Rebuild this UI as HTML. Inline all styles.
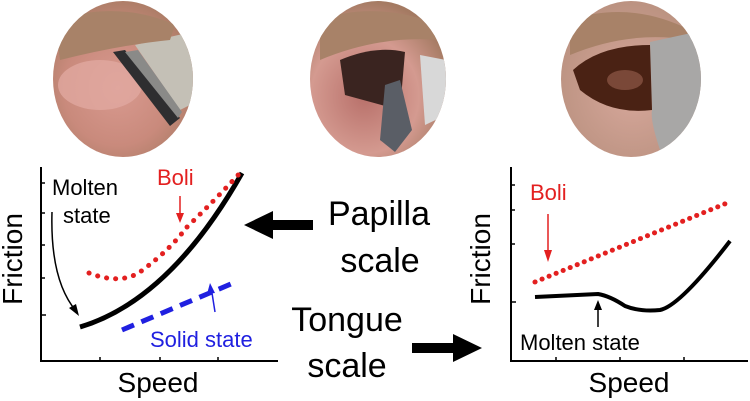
<!DOCTYPE html>
<html><head><style>
html,body{margin:0;padding:0;background:#fff;}
svg{display:block;font-family:"Liberation Sans",Arial,sans-serif;}
</style></head><body>
<svg width="750" height="401" viewBox="0 0 750 401" xmlns="http://www.w3.org/2000/svg">
<defs>
<radialGradient id="sk1" cx="45%" cy="55%" r="60%"><stop offset="0" stop-color="#d99a90"/><stop offset="0.6" stop-color="#c98a7c"/><stop offset="1" stop-color="#a67a62"/></radialGradient>
<radialGradient id="sk2" cx="40%" cy="60%" r="60%"><stop offset="0" stop-color="#b8706a"/><stop offset="0.6" stop-color="#d49a90"/><stop offset="1" stop-color="#a47a62"/></radialGradient>
<radialGradient id="sk3" cx="50%" cy="55%" r="60%"><stop offset="0" stop-color="#d8a89c"/><stop offset="1" stop-color="#b8907e"/></radialGradient>
<clipPath id="c1"><ellipse cx="123" cy="79" rx="70" ry="78"/></clipPath>
<clipPath id="c2"><ellipse cx="378" cy="79" rx="68" ry="78"/></clipPath>
<clipPath id="c3"><ellipse cx="631" cy="79" rx="70" ry="78"/></clipPath>
</defs>
<!-- photos -->
<g clip-path="url(#c1)">
<rect x="50" y="0" width="150" height="160" fill="url(#sk1)"/>
<path d="M135 45 L200 30 L200 100 L180 110 Z" fill="#c4c0b6"/>
<path d="M55 20 Q120 0 175 25 L170 40 Q120 45 60 60 Z" fill="#a88268"/>
<ellipse cx="100" cy="85" rx="42" ry="25" fill="#e2aaa2" opacity="0.75"/>
<polygon points="113,52 125,50 180,118 170,126" fill="#2e2e30"/>
<polygon points="125,52 138,50 182,112 178,118" fill="#8a8a88"/>
</g>
<g clip-path="url(#c2)">
<rect x="305" y="0" width="150" height="160" fill="url(#sk2)"/>
<path d="M320 20 Q375 0 440 25 L440 40 Q380 35 320 60 Z" fill="#a88268"/>
<path d="M340 60 Q375 45 405 52 L400 110 L345 95 Z" fill="#3a2420"/>
<polygon points="385,85 400,80 412,130 395,152 380,140" fill="#5a5e66"/>
<path d="M420 55 L446 60 L446 115 L425 125 Z" fill="#d8d8d8"/>
</g>
<g clip-path="url(#c3)">
<rect x="560" y="0" width="145" height="160" fill="url(#sk3)"/>
<path d="M570 20 Q630 0 690 30 L690 40 Q630 30 570 55 Z" fill="#a88268"/>
<path d="M650 42 L705 30 L705 160 L660 150 Q650 120 652 110 Z" fill="#a8a7a6"/>
<path d="M573 70 Q600 45 650 45 L652 110 Q610 115 580 90 Z" fill="#4a2214"/>
<ellipse cx="625" cy="80" rx="18" ry="10" fill="#7a4838"/>
</g>
<!-- left plot -->
<path d="M41 167 V361 H278" stroke="#000" stroke-width="2" fill="none"/>
<g stroke="#000" stroke-width="1.5">
<line x1="41" y1="183" x2="45" y2="183"/><line x1="41" y1="213" x2="45" y2="213"/><line x1="41" y1="245" x2="45" y2="245"/><line x1="41" y1="278" x2="45" y2="278"/><line x1="41" y1="315" x2="46" y2="315"/>
<line x1="100" y1="361" x2="100" y2="357"/><line x1="160" y1="361" x2="160" y2="357"/><line x1="218" y1="361" x2="218" y2="357"/>
</g>
<path d="M80 327 Q170 300 242 173" stroke="#000" stroke-width="5" fill="none"/>
<path d="M89 273 Q120 285 140 272 Q170 250 186 228 Q215 200 240 173" stroke="#e32020" stroke-width="5" fill="none" stroke-dasharray="0.1 9" stroke-linecap="round"/>
<path d="M122 330 L238 281" stroke="#2020e0" stroke-width="5" stroke-dasharray="13 8" fill="none"/>
<text x="52" y="195" font-size="22">Molten</text>
<text x="63" y="223" font-size="22">state</text>
<path d="M52 212 Q50 280 76 311" stroke="#000" stroke-width="1.5" fill="none"/>
<polygon points="79,316 69,308 76,304" fill="#000"/>
<text x="157" y="185" font-size="22" fill="#e32020">Boli</text>
<line x1="180" y1="196" x2="180" y2="215" stroke="#e32020" stroke-width="1.5"/>
<polygon points="176,213 184,213 180,223" fill="#e32020"/>
<text x="150" y="347" font-size="22" fill="#2020e0">Solid state</text>
<line x1="215" y1="312" x2="212" y2="293" stroke="#2020e0" stroke-width="1.5"/>
<polygon points="207,294 215,293 210,283" fill="#2020e0"/>
<text transform="translate(22,259) rotate(-90)" text-anchor="middle" font-size="28">Friction</text>
<text x="158" y="392" text-anchor="middle" font-size="28">Speed</text>
<!-- middle -->
<text x="379" y="225" text-anchor="middle" font-size="34">Papilla</text>
<text x="380" y="272" text-anchor="middle" font-size="34">scale</text>
<text x="347" y="331" text-anchor="middle" font-size="34">Tongue</text>
<text x="347" y="377" text-anchor="middle" font-size="34">scale</text>
<polygon points="244,225 273,211 273,220 313,220 313,230 273,230 273,239" fill="#000"/>
<polygon points="482,348 453,334 453,343 412,343 412,353 453,353 453,362" fill="#000"/>
<!-- right plot -->
<path d="M511 167 V361 H748" stroke="#000" stroke-width="2" fill="none"/>
<g stroke="#000" stroke-width="1.5">
<line x1="511" y1="185" x2="515" y2="185"/><line x1="511" y1="210" x2="515" y2="210"/><line x1="511" y1="244" x2="515" y2="244"/><line x1="511" y1="302" x2="516" y2="302"/>
<line x1="556" y1="361" x2="556" y2="357"/><line x1="620" y1="361" x2="620" y2="357"/><line x1="684" y1="361" x2="684" y2="357"/>
</g>
<path d="M535 282 L727 203" stroke="#e32020" stroke-width="5" fill="none" stroke-dasharray="0.1 7.5" stroke-linecap="round"/>
<path d="M535 297 L598 294 Q610 296 625 306 Q640 312 660 310 Q680 306 730 241" stroke="#000" stroke-width="4" fill="none"/>
<text x="530" y="200" font-size="22" fill="#e32020">Boli</text>
<line x1="548" y1="214" x2="548" y2="252" stroke="#e32020" stroke-width="1.5"/>
<polygon points="544,250 552,250 548,262" fill="#e32020"/>
<text x="520" y="350" font-size="22">Molten state</text>
<line x1="598" y1="327" x2="598" y2="308" stroke="#000" stroke-width="1.5"/>
<polygon points="594,310 602,310 598,300" fill="#000"/>
<text transform="translate(490,259) rotate(-90)" text-anchor="middle" font-size="28">Friction</text>
<text x="629" y="392" text-anchor="middle" font-size="28">Speed</text>
</svg>
</body></html>
